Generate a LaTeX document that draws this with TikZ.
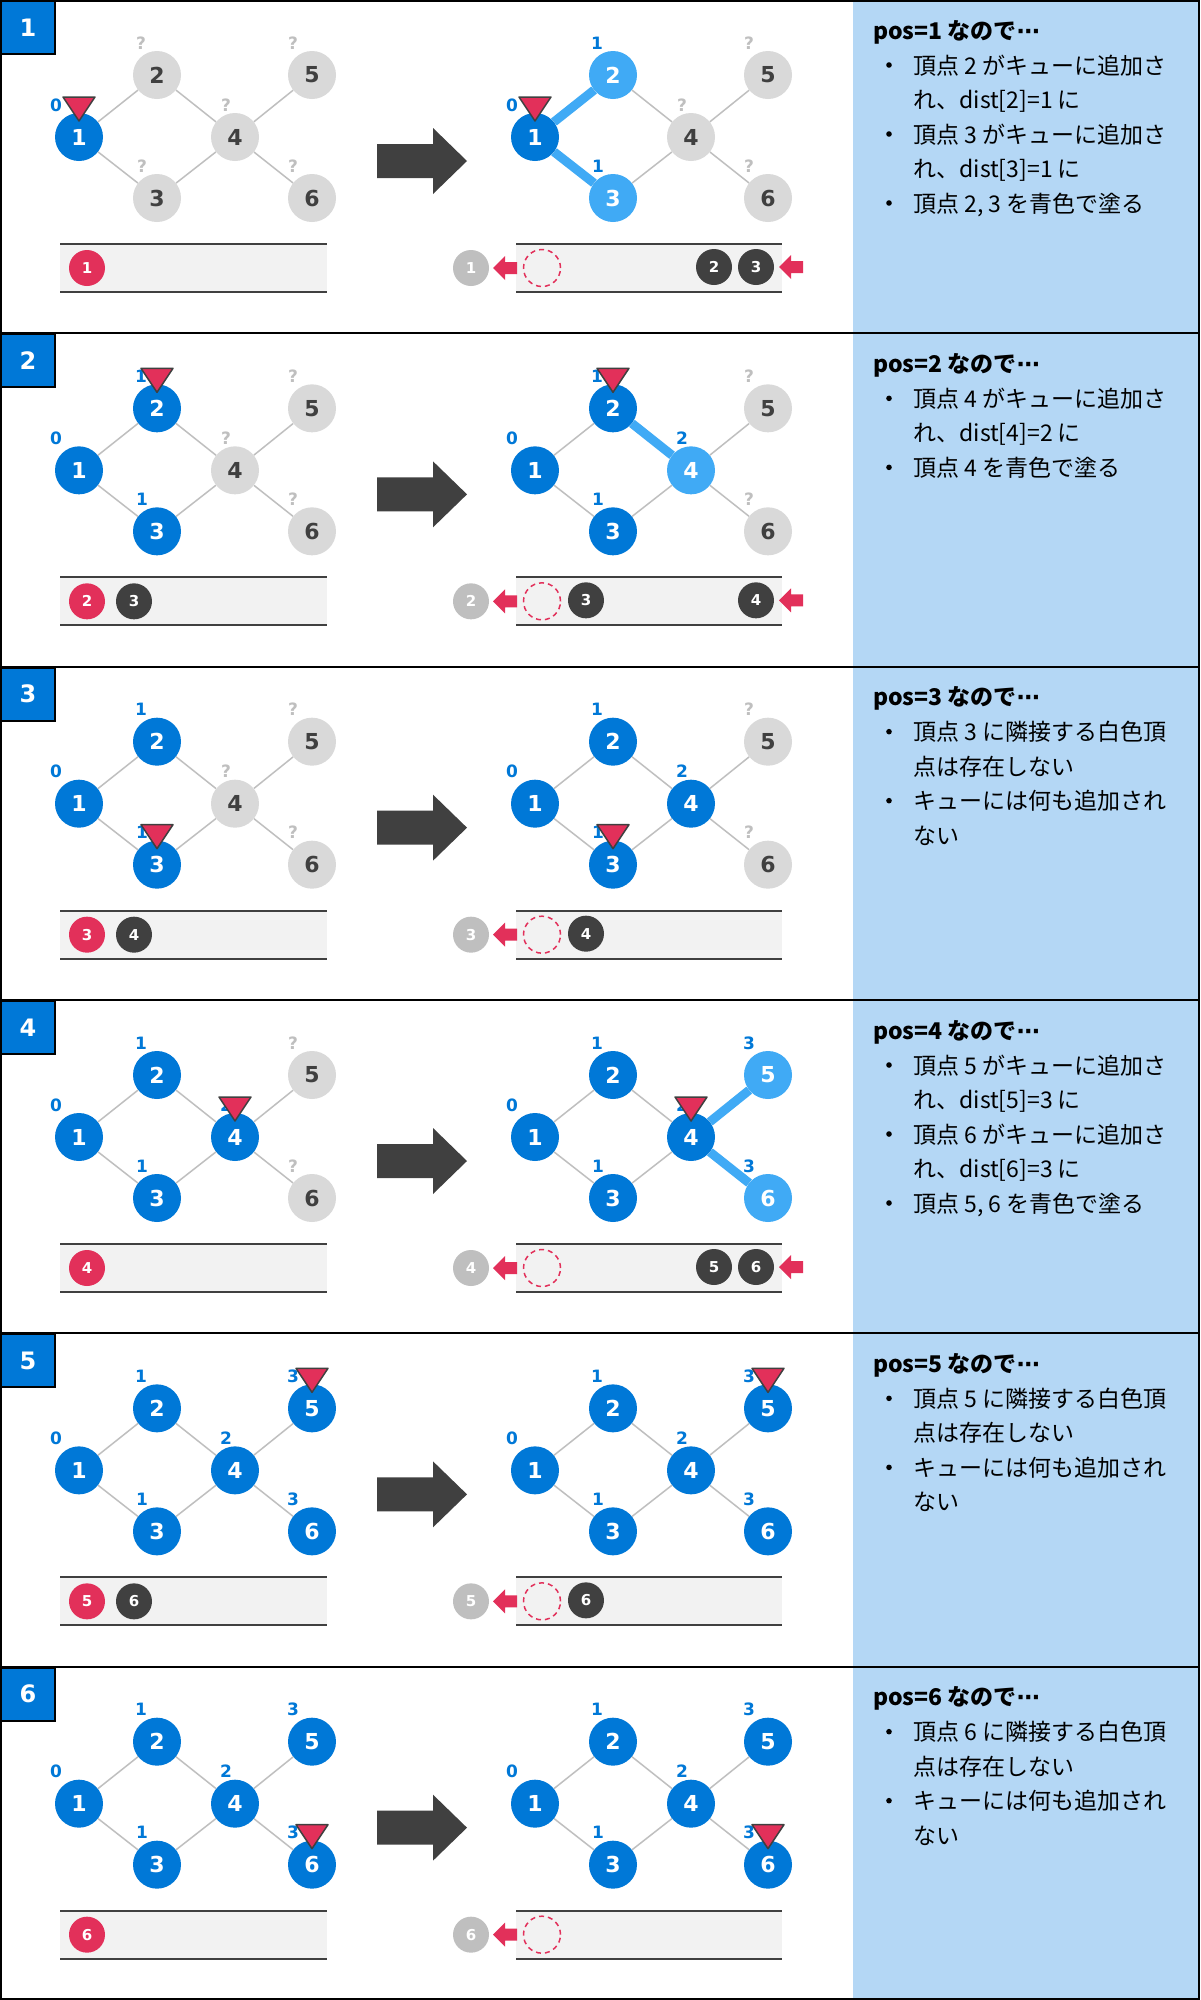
\documentclass[tikz,border=0pt]{standalone}
\usepackage{fontspec}
\setmainfont{DejaVu Sans}
\newfontfamily\jp{Noto Sans CJK JP}
\usetikzlibrary{calc}
\definecolor{vblue}{RGB}{0,120,215}
\definecolor{vnew}{RGB}{64,170,245}
\definecolor{vgray}{RGB}{217,217,217}
\definecolor{dtext}{RGB}{64,64,64}
\definecolor{qmark}{RGB}{191,191,191}
\definecolor{ptrred}{RGB}{226,48,90}
\definecolor{qbg}{RGB}{242,242,242}
\definecolor{panelblue}{RGB}{180,215,245}
\definecolor{edgegray}{RGB}{191,191,191}
\pgfdeclarelayer{back}
\pgfdeclarelayer{edges}
\pgfsetlayers{back,edges,main}
\tikzset{
  vbase/.style={circle,minimum size=48pt,inner sep=0pt,font=\fontsize{22}{22}\selectfont\bfseries},
  vb/.style={vbase,fill=vblue,text=white},
  vn/.style={vbase,fill=vnew,text=white},
  vg/.style={vbase,fill=vgray,text=dtext},
  lbase/.style={inner sep=0pt,font=\fontsize{17}{17}\selectfont\bfseries},
  lb/.style={lbase,text=vblue},
  ln/.style={lbase,text=vblue},
  lg/.style={lbase,text=qmark},
  edge/.style={draw=edgegray,line width=1.5pt},
  hot/.style={draw=vnew,line width=9pt},
  ptr/.style={fill=ptrred,draw=dtext,line width=1.5pt,line join=round},
  qbase/.style={circle,minimum size=36pt,inner sep=0pt,text=white,font=\fontsize{15}{15}\selectfont\bfseries},
  qr/.style={qbase,fill=ptrred},
  qd/.style={qbase,fill=dtext},
  qo/.style={qbase,fill=qmark},
  qhole/.style={circle,minimum size=37pt,inner sep=0pt,draw=ptrred,line width=1.5pt,dash pattern=on 5pt off 4pt},
  qline/.style={draw=dtext,line width=2pt},
  qarrow/.style={fill=ptrred},
  bigarrow/.style={fill=dtext},
  tag/.style={rectangle,anchor=north west,minimum width=54pt,minimum height=53pt,inner sep=0pt,fill=vblue,draw=black,line width=2pt,text=white,font=\fontsize{24}{24}\selectfont\bfseries},
  txt/.style={inner sep=0pt,anchor=base west,text=black,font=\jp\fontsize{23}{23}\selectfont},
  ttl/.style={inner sep=0pt,anchor=base west,text=black,font=\jp\bfseries\fontsize{23}{23}\selectfont},
  bul/.style={fill=black},
  sep/.style={draw=black,line width=2pt}
}
% node positions and label offsets
\expandafter\def\csname px1\endcsname{79}\expandafter\def\csname py1\endcsname{137}\expandafter\def\csname lx1\endcsname{-23}
\expandafter\def\csname px2\endcsname{157}\expandafter\def\csname py2\endcsname{75}\expandafter\def\csname lx2\endcsname{-16}
\expandafter\def\csname px3\endcsname{157}\expandafter\def\csname py3\endcsname{198}\expandafter\def\csname lx3\endcsname{-15}
\expandafter\def\csname px4\endcsname{235}\expandafter\def\csname py4\endcsname{137}\expandafter\def\csname lx4\endcsname{-9}
\expandafter\def\csname px5\endcsname{312}\expandafter\def\csname py5\endcsname{75}\expandafter\def\csname lx5\endcsname{-19}
\expandafter\def\csname px6\endcsname{312}\expandafter\def\csname py6\endcsname{198}\expandafter\def\csname lx6\endcsname{-19}
% graph: prefix, ox, oy, states, pointer, hot edges
\newcommand\Graph[6]{%
  \foreach \i/\s/\v in {#4}{%
    \node[l\s] (#1l\i) at ({#2+\csname px\i\endcsname+\csname lx\i\endcsname},{#3+\csname py\i\endcsname-32}) {\v};
    \node[v\s] (#1\i) at ({#2+\csname px\i\endcsname},{#3+\csname py\i\endcsname}) {\i};
  }%
  \begin{pgfonlayer}{edges}
    \foreach \a/\b in {1/2,1/3,2/4,3/4,4/5,4/6} \draw[edge] (#1\a) -- (#1\b);
    \ifx\relax#6\relax\else
      \foreach \a/\b in {#6} \draw[hot] (#1\a) -- (#1\b);
    \fi
  \end{pgfonlayer}
  \draw[ptr] ($(#1#5)+(-16,-40)$) -- ($(#1#5)+(16,-40)$) -- ($(#1#5)+(0,-16)$) -- cycle;
}
% left queue: prefix, oy, items x/style/num
\newcommand\QL[3]{%
  \begin{pgfonlayer}{back}\fill[qbg] (60,{#2+244}) rectangle (327,{#2+292});\end{pgfonlayer}
  \draw[qline] (60,{#2+244}) -- (327,{#2+244});
  \draw[qline] (60,{#2+292}) -- (327,{#2+292});
  \foreach \x/\s/\n in {#3} \node[q\s] (#1\n) at (\x,{#2+268}) {\n};
}
% right queue: prefix, oy, out number, items x/num, incoming arrow (1/0)
\newcommand\QR[5]{%
  \begin{pgfonlayer}{back}\fill[qbg] (516,{#2+244}) rectangle (782,{#2+292});\end{pgfonlayer}
  \draw[qline] (516,{#2+244}) -- (782,{#2+244});
  \draw[qline] (516,{#2+292}) -- (782,{#2+292});
  \node[qo] (#1out) at (471,{#2+268}) {#3};
  \node[qhole] (#1hole) at (542,{#2+268}) {};
  \fill[qarrow] (493,{#2+268}) -- (505,{#2+256}) -- (505,{#2+262}) -- (517,{#2+262}) -- (517,{#2+274}) -- (505,{#2+274}) -- (505,{#2+280}) -- cycle;
  \ifx\relax#4\relax\else
    \foreach \x/\n in {#4} \node[qd] (#1\n) at (\x,{#2+267}) {\n};
  \fi
  \ifnum#5=1
    \fill[qarrow] (779,{#2+267}) -- (791,{#2+255}) -- (791,{#2+261}) -- (803,{#2+261}) -- (803,{#2+273}) -- (791,{#2+273}) -- (791,{#2+279}) -- cycle;
  \fi
}
\newcommand\BigArrow[1]{%
  \fill[bigarrow] (377,{#1+144}) -- (433,{#1+144}) -- (433,{#1+128}) -- (467,{#1+161}) -- (433,{#1+194}) -- (433,{#1+178}) -- (377,{#1+178}) -- cycle;
}
\newcommand\Title[2]{\node[ttl] at (873,{#1+39}) {pos=#2 なので{\rmfamily\bfseries ⋯}};}
\newcommand\Bul[3]{%
  \fill[bul] (889,{#1+65+34.5*#2}) circle (2.8);
  \node[txt] at (913,{#1+74+34.5*#2}) {#3};}
\newcommand\Cont[3]{\node[txt] at (913,{#1+74+34.5*#2}) {#3};}
\begin{document}
\begin{tikzpicture}[x=1pt,y=-1pt]
\useasboundingbox (0,0) rectangle (1200,2000);
\begin{pgfonlayer}{back}
  \fill[white] (0,0) rectangle (1200,2000);
  \foreach \k in {0,...,5} \fill[panelblue] (853,{\k*333.333}) rectangle (1200,{(\k+1)*333.333});
\end{pgfonlayer}

% ---------- panel 1
\Graph{aL}{0}{0}{1/b/0,2/g/?,3/g/?,4/g/?,5/g/?,6/g/?}{1}{}
\Graph{aR}{456}{0}{1/b/0,2/n/1,3/n/1,4/g/?,5/g/?,6/g/?}{1}{1/2,1/3}
\QL{aq}{0}{87/r/1}
\QR{aQ}{0}{1}{714/2,756/3}{1}
\BigArrow{0}
\Title{0}{1}
\Bul{0}{0}{頂点 2 がキューに追加さ}
\Cont{0}{1}{れ、dist[2]=1 に}
\Bul{0}{2}{頂点 3 がキューに追加さ}
\Cont{0}{3}{れ、dist[3]=1 に}
\Bul{0}{4}{頂点 2, 3 を青色で塗る}

% ---------- panel 2
\Graph{bL}{0}{333.333}{1/b/0,2/b/1,3/b/1,4/g/?,5/g/?,6/g/?}{2}{}
\Graph{bR}{456}{333.333}{1/b/0,2/b/1,3/b/1,4/n/2,5/g/?,6/g/?}{2}{2/4}
\QL{bq}{333.333}{87/r/2,134/d/3}
\QR{bQ}{333.333}{2}{586/3,756/4}{1}
\BigArrow{333.333}
\Title{333.333}{2}
\Bul{333.333}{0}{頂点 4 がキューに追加さ}
\Cont{333.333}{1}{れ、dist[4]=2 に}
\Bul{333.333}{2}{頂点 4 を青色で塗る}

% ---------- panel 3
\Graph{cL}{0}{666.667}{1/b/0,2/b/1,3/b/1,4/g/?,5/g/?,6/g/?}{3}{}
\Graph{cR}{456}{666.667}{1/b/0,2/b/1,3/b/1,4/b/2,5/g/?,6/g/?}{3}{}
\QL{cq}{666.667}{87/r/3,134/d/4}
\QR{cQ}{666.667}{3}{586/4}{0}
\BigArrow{666.667}
\Title{666.667}{3}
\Bul{666.667}{0}{頂点 3 に隣接する白色頂}
\Cont{666.667}{1}{点は存在しない}
\Bul{666.667}{2}{キューには何も追加され}
\Cont{666.667}{3}{ない}

% ---------- panel 4
\Graph{dL}{0}{1000}{1/b/0,2/b/1,3/b/1,4/b/2,5/g/?,6/g/?}{4}{}
\Graph{dR}{456}{1000}{1/b/0,2/b/1,3/b/1,4/b/2,5/n/3,6/n/3}{4}{4/5,4/6}
\QL{dq}{1000}{87/r/4}
\QR{dQ}{1000}{4}{714/5,756/6}{1}
\BigArrow{1000}
\Title{1000}{4}
\Bul{1000}{0}{頂点 5 がキューに追加さ}
\Cont{1000}{1}{れ、dist[5]=3 に}
\Bul{1000}{2}{頂点 6 がキューに追加さ}
\Cont{1000}{3}{れ、dist[6]=3 に}
\Bul{1000}{4}{頂点 5, 6 を青色で塗る}

% ---------- panel 5
\Graph{eL}{0}{1333.333}{1/b/0,2/b/1,3/b/1,4/b/2,5/b/3,6/b/3}{5}{}
\Graph{eR}{456}{1333.333}{1/b/0,2/b/1,3/b/1,4/b/2,5/b/3,6/b/3}{5}{}
\QL{eq}{1333.333}{87/r/5,134/d/6}
\QR{eQ}{1333.333}{5}{586/6}{0}
\BigArrow{1333.333}
\Title{1333.333}{5}
\Bul{1333.333}{0}{頂点 5 に隣接する白色頂}
\Cont{1333.333}{1}{点は存在しない}
\Bul{1333.333}{2}{キューには何も追加され}
\Cont{1333.333}{3}{ない}

% ---------- panel 6
\Graph{fL}{0}{1666.667}{1/b/0,2/b/1,3/b/1,4/b/2,5/b/3,6/b/3}{6}{}
\Graph{fR}{456}{1666.667}{1/b/0,2/b/1,3/b/1,4/b/2,5/b/3,6/b/3}{6}{}
\QL{fq}{1666.667}{87/r/6}
\QR{fQ}{1666.667}{6}{}{0}
\BigArrow{1666.667}
\Title{1666.667}{6}
\Bul{1666.667}{0}{頂点 6 に隣接する白色頂}
\Cont{1666.667}{1}{点は存在しない}
\Bul{1666.667}{2}{キューには何も追加され}
\Cont{1666.667}{3}{ない}

% ---------- frames and tags
\foreach \k in {1,...,5} \draw[sep] (0,{\k*333.333}) -- (1200,{\k*333.333});
\draw[sep] (1,1) rectangle (1199,1999);
\node[tag] (t1) at (0,0) {1};
\node[tag] (t2) at (0,333.333) {2};
\node[tag] (t3) at (0,666.667) {3};
\node[tag] (t4) at (0,1000) {4};
\node[tag] (t5) at (0,1333.333) {5};
\node[tag] (t6) at (0,1666.667) {6};
\end{tikzpicture}
\end{document}
